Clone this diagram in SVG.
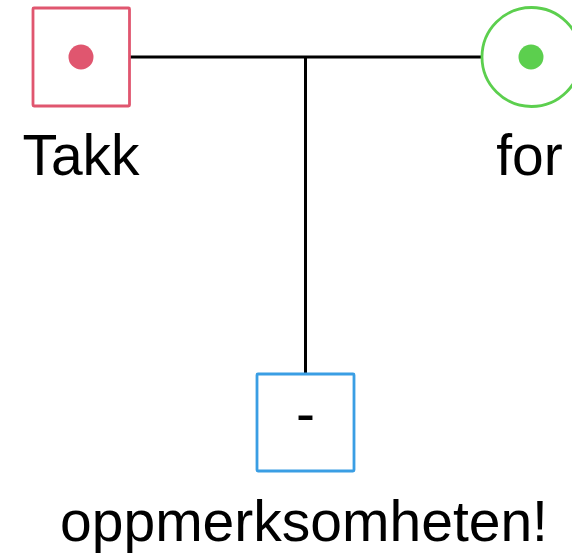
<svg xmlns="http://www.w3.org/2000/svg" width="572" height="560" viewBox="0 0 572 560">
<style>
.lbl{font-family:"Liberation Sans",Arial,sans-serif;font-size:57px;fill:#000;text-anchor:middle}
.edge{stroke:#000;stroke-width:3;fill:none}
</style>
<rect width="572" height="560" fill="#fff"/>
<g id="connectors">
<path class="edge" d="M130,57 H482"/>
<path class="edge" d="M305.5,57 V373"/>
</g>
<g id="node-takk">
<rect x="33" y="8" width="96.5" height="98" fill="#fff" stroke="#e0566f" stroke-width="2.8" rx="1"/>
<circle cx="81" cy="57" r="12.5" fill="#e0566f"/>
<text class="lbl" x="81" y="175">Takk</text>
</g>
<g id="node-for">
<circle cx="531.5" cy="57" r="49.5" fill="#fff" stroke="#5ccf4e" stroke-width="2.8"/>
<circle cx="531" cy="57" r="12.5" fill="#5ccf4e"/>
<text class="lbl" x="529.5" y="175">for</text>
</g>
<g id="node-oppmerksomheten">
<rect x="257" y="374" width="97" height="97" fill="#fff" stroke="#3a9ee4" stroke-width="2.8" rx="1"/>
<text class="lbl" x="305.5" y="433">-</text>
<text class="lbl" x="304" y="541">oppmerksomheten!</text>
</g>
</svg>
